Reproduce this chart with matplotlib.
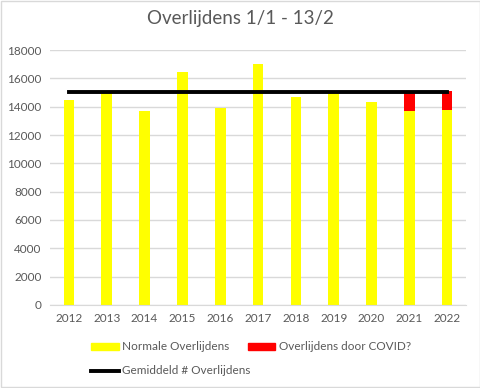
import matplotlib
matplotlib.use("Agg")
import matplotlib.pyplot as plt
from matplotlib.patches import Patch
from matplotlib.lines import Line2D

years = ["2012", "2013", "2014", "2015", "2016", "2017",
         "2018", "2019", "2020", "2021", "2022"]
normaal = [14480, 14950, 13700, 16450, 13900, 17000,
           14700, 14950, 14330, 13720, 13770]
covid = [0, 0, 0, 0, 0, 0, 0, 0, 0, 1220, 1340]
gemiddeld = [15010] * len(years)

plt.rcParams['font.family'] = ['Lato', 'DejaVu Sans']
grey = "#595959"

fig = plt.figure(figsize=(4.81, 3.88), dpi=100)
ax = fig.add_axes([0.104, 0.214, 0.865, 0.657])

x = list(range(len(years)))
ax.bar(x, normaal, width=0.28, color="#ffff00", zorder=2)
ax.bar(x, covid, width=0.28, bottom=normaal, color="#ff0000", zorder=2)
ax.plot(x, gemiddeld, color="black", lw=2.8, zorder=3)

ax.set_xlim(-0.5, len(years) - 0.5)
ax.set_ylim(0, 18000)
ax.set_yticks(range(0, 18001, 2000))
ax.set_xticks(x)
ax.set_xticklabels(years)
ax.grid(axis="y", color="#d9d9d9", lw=1, zorder=0)
for s in ["top", "right", "left"]:
    ax.spines[s].set_visible(False)
ax.spines["bottom"].set_color("#d9d9d9")
ax.tick_params(length=0, colors=grey, labelsize=8.5, pad=6)

fig.suptitle("Overlijdens 1/1 - 13/2", y=0.975, fontsize=13.5, color=grey)

leg_kw = dict(loc="center left", frameon=False, fontsize=8.5,
              labelcolor=grey, handlelength=2.3, handleheight=0.6,
              handletextpad=0.3, borderaxespad=0, borderpad=0)
leg1 = fig.legend([Patch(color="#ffff00"), Patch(color="#ff0000")],
                  ["Normale Overlijdens", "Overlijdens door COVID?"],
                  ncol=2, columnspacing=1.6,
                  bbox_to_anchor=(0.19, 1 - 347 / 388), **leg_kw)
fig.legend([Line2D([], [], color="black", lw=2.8)],
           ["Gemiddeld # Overlijdens"],
           bbox_to_anchor=(0.19, 1 - 371 / 388), **leg_kw)

fig.patches.append(plt.Rectangle((0.002, 0.002), 0.995, 0.995,
                                 transform=fig.transFigure, fill=False,
                                 edgecolor="#d9d9d9", lw=1))

fig.savefig("out.png", dpi=100)
